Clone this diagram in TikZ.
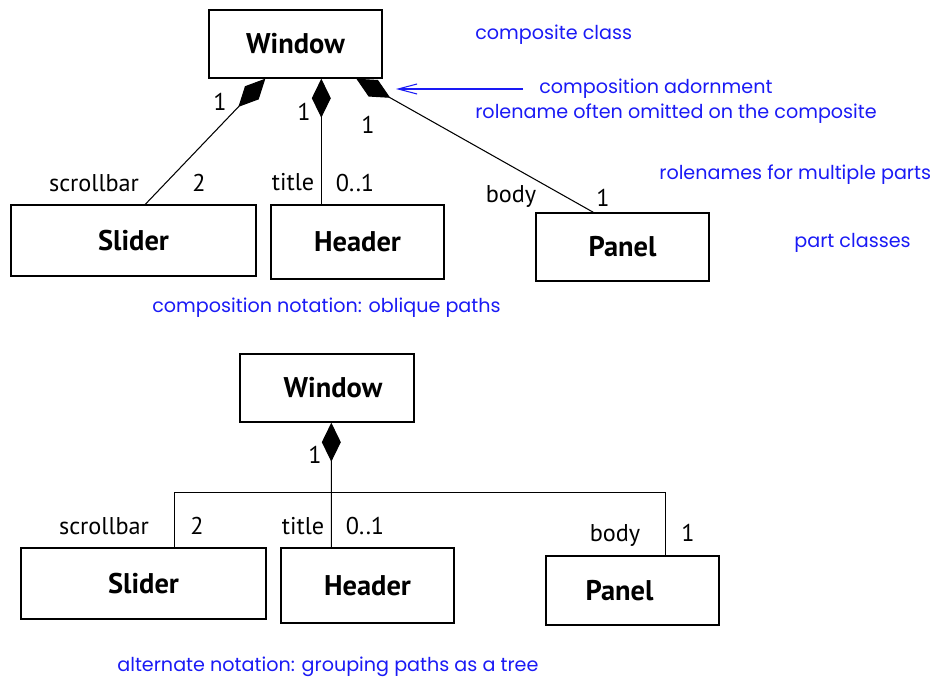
\documentclass[tikz,border=0pt]{standalone}
\usepackage{fontspec}
\setmainfont{PT Sans}
\newfontfamily\notefont{Poppins}
\usetikzlibrary{arrows.meta,calc}
\definecolor{note}{HTML}{1A1AF5}

\begin{document}
\begin{tikzpicture}[x=0.02cm, y=-0.02cm,
  cls/.style={draw,line width=0.8pt,inner sep=0pt,font=\fontsize{16.2}{19}\selectfont\bfseries},
  role/.style={font=\fontsize{13.8}{16}\selectfont,inner sep=0pt},
  comp/.style={line width=0.6pt,-{Diamond[length=0.78cm,width=0.38cm]}},
  tree/.style={line width=0.6pt},
  notetext/.style={note,anchor=west,inner sep=0pt,font=\notefont\fontsize{10.9}{13}\selectfont},
]
  \useasboundingbox (0,0) rectangle (937,679);

  % oblique paths
  \node[cls,minimum width=3.46cm,minimum height=1.36cm] (win) at (295.5,44) {Window};
  \node[cls,minimum width=4.9cm,minimum height=1.42cm] (sld) at (133.5,240.5) {Slider};
  \node[cls,minimum width=3.46cm,minimum height=1.48cm] (hdr) at (357.5,242) {Header};
  \node[cls,minimum width=3.46cm,minimum height=1.36cm] (pnl) at (622.5,247) {Panel};

  \draw[comp] ($(sld.north west)+(135,0)$) -- ($(win.south west)+(57,0)$);
  \draw[comp] ($(hdr.north west)+(51,0)$) -- ($(win.south west)+(113,0)$);
  \draw[comp] ($(pnl.north west)+(58,0)$) -- ($(win.south west)+(148,0)$);

  \node[role] (m1) at (220,102) {1};
  \node[role] (m2) at (304,112) {1};
  \node[role] (m3) at (368,125) {1};
  \node[role] (r1) at (94,183) {scrollbar};
  \node[role] (n1) at (199,183) {2};
  \node[role] (r2) at (293,182) {title};
  \node[role] (n2) at (355,183) {0..1};
  \node[role] (r3) at (511,196) {body};
  \node[role] (n3) at (603,198) {1};

  % tree paths
  \node[cls,minimum width=3.48cm,minimum height=1.36cm] (winB) at (327,388) {\kern0.24cm Window};
  \node[cls,minimum width=4.9cm,minimum height=1.42cm] (sldB) at (143.5,583.5) {Slider};
  \node[cls,minimum width=3.46cm,minimum height=1.5cm] (hdrB) at (367.5,585.5) {Header};
  \node[cls,minimum width=3.46cm,minimum height=1.38cm] (pnlB) at (632.5,590.5) {Panel\kern0.52cm};

  \draw[comp] ($(hdrB.north west)+(51,0)$) -- ($(winB.south west)+(92,0)$);
  \draw[tree] ($(sldB.north west)+(154,0)$) -- ++(0,-55) -| ($(pnlB.north west)+(120,0)$);

  \node[role] (mB) at (315,455) {1};
  \node[role] (rB1) at (104,526) {scrollbar};
  \node[role] (nB1) at (197,526) {2};
  \node[role] (rB2) at (303,526) {title};
  \node[role] (nB2) at (365,526) {0..1};
  \node[role] (rB3) at (615,535) {body};
  \node[role] (nB3) at (688,533) {1};

  % notes
  \node[notetext] (cc) at (475,35) {composite class};
  \node[notetext] (adorn) at (539,89) {composition adornment};
  \node[notetext] (omit) at (475,114) {rolename often omitted on the composite};
  \node[notetext] (multi) at (659,175) {rolenames for multiple parts};
  \node[notetext] (parts) at (794,243) {part classes};
  \node[notetext] (obl) at (152,308) {composition notation: oblique paths};
  \node[notetext] (alt) at (117,667) {alternate notation: grouping paths as a tree};

  \coordinate (adornTip) at (396,89);
  \draw[note,line width=0.6pt,-{Straight Barb[length=0.38cm,width=0.2cm]}] ($(adorn.west)+(-16,0)$) -- (adornTip);
\end{tikzpicture}
\end{document}
